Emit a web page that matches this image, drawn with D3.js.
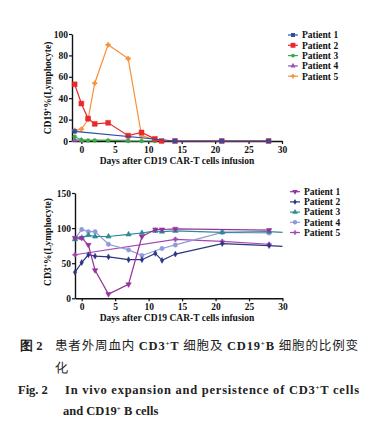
<!DOCTYPE html>
<html><head><meta charset="utf-8">
<script src="https://cdn.jsdelivr.net/npm/d3@7"></script>
<style>
body{margin:0;background:#fff;}
svg text{font-family:"Liberation Serif","Times New Roman",serif;}
</style></head>
<body><svg id="c" width="386" height="428"></svg>
<script>
// ---------- DATA ----------
const patients = ["Patient 1","Patient 2","Patient 3","Patient 4","Patient 5"];
const xTicks = [0,5,10,15,20,25,30];
const cd19Ticks = [0,20,40,60,80,100];
const cd3Ticks = [0,50,100,150];
// CD19+ % (top panel)
const cd19Days = [
  [-1,14,21,28],
  [-1,0,1,2,4,7,9,11,12,14,21,28],
  [-1,0,1,2,4,7,9,11],
  [-1,0,7],
  [-1,0,1,2,4,7,9,11]
];
const cd19Vals = [
  [9,0,0,0],
  [53,35,21,16,17,5,8,2,0,0,0,0],
  [4,1,0.5,0.5,0.5,0,0,0],
  [1,0.5,0.5],
  [10,11,20,54,90,77,5,1]
];
// CD3+ % (bottom panel)
const cd3Days = [
  [-1,0,1,2,4,7,9,11,12,14,28],
  [-1,0,1,2,4,7,9,11,12,14,21,28,30],
  [-1,0,1,2,4,7,9,11,12,14,21,28,30],
  [-1,0,1,2,4,7,9,12,14,21,28],
  [-1,14,21,28]
];
const cd3Vals = [
  [86,86,76,40,6,20,88,98,98,99,97],
  [37,51,62,60,59,55,55,64,54,63,78,75,74],
  [84,86,90,88,88,91,93,96,95,96,94,95,94],
  [85,98,95,95,77,69,61,71,76,94,93],
  [62,84,81,77]
];

// ---------- STYLE ----------
const topColors = ["#2c4fa6","#e82a2c","#3aab44","#8f5cb4","#f7913a"];
const botColors = ["#96329e","#2c3580","#2e8a96","#8f9ad8","#a646b2"];
const topSym = [d3.symbolSquare,d3.symbolSquare,d3.symbolCircle,d3.symbolTriangle,d3.symbolCross];
const topSize = [16,24,12,12,12];
const botSym = [d3.symbolTriangle,d3.symbolDiamond,d3.symbolTriangle,d3.symbolCircle,d3.symbolCross];
const botSize = [13,10,13,15,11];
const botRot = [180,0,0,0,0];

const svg = d3.select("#c");

function panel(cfg){
  const g = svg.append("g");
  const x = d3.scaleLinear().domain(cfg.xDom).range(cfg.xRange);
  const y = d3.scaleLinear().domain(cfg.yDom).range(cfg.yRange);
  // axes
  const ax = g.append("g").attr("transform",`translate(0,${cfg.yRange[0]})`)
    .call(d3.axisBottom(x).tickValues(xTicks).tickSize(3).tickSizeOuter(0));
  const ay = g.append("g").attr("transform",`translate(${cfg.xRange[0]},0)`)
    .call(d3.axisLeft(y).tickValues(cfg.yTicks).tickSize(3).tickSizeOuter(0));
  [ax,ay].forEach(a=>{
    a.select(".domain").attr("stroke","#111").attr("stroke-width",1.4);
    a.selectAll(".tick line").attr("stroke","#111").attr("stroke-width",1.2);
    a.selectAll(".tick text").attr("font-family","Liberation Serif").attr("font-weight","bold")
      .attr("font-size",9.5).attr("fill","#111");
  });
  ax.selectAll(".tick text").attr("dy","0.72em").attr("y",5);
  ay.selectAll(".tick text").attr("x",-4);
  // series (drawn last-to-first so Patient 1 sits on top)
  const line = d3.line().x(d=>x(d[0])).y(d=>y(d[1]));
  d3.range(cfg.days.length).reverse().forEach(i=>{
    const ds = cfg.days[i];
    const pts = ds.map((d,j)=>[d,cfg.vals[i][j]]);
    g.append("path").datum(pts).attr("d",line).attr("fill","none")
      .attr("stroke",cfg.colors[i]).attr("stroke-width",1.2);
    g.selectAll(null).data(pts.filter(p=>p[0]<=28)).enter().append("path")
      .attr("d",d3.symbol().type(cfg.sym[i]).size(cfg.size[i]))
      .attr("transform",p=>`translate(${x(p[0])},${y(p[1])}) rotate(${cfg.rot?cfg.rot[i]:0})`)
      .attr("fill",cfg.colors[i]).attr("stroke",cfg.colors[i]).attr("stroke-width",0.5);
  });
  // legend
  patients.forEach((p,i)=>{
    const ly = cfg.legY + i*cfg.legDy;
    g.append("line").attr("x1",cfg.legX).attr("x2",cfg.legX+10).attr("y1",ly).attr("y2",ly)
      .attr("stroke",cfg.colors[i]).attr("stroke-width",1.2);
    g.append("path").attr("d",d3.symbol().type(cfg.sym[i]).size(cfg.size[i]))
      .attr("transform",`translate(${cfg.legX+5},${ly}) rotate(${cfg.rot?cfg.rot[i]:0})`)
      .attr("fill",cfg.colors[i]);
    g.append("text").attr("x",cfg.legX+14).attr("y",ly).attr("dy","0.35em")
      .attr("font-weight","bold").attr("font-size",9.5).attr("fill","#111").text(p);
  });
  // x title
  g.append("text").attr("x",177).attr("y",cfg.xTitleY).attr("text-anchor","middle")
    .attr("font-weight","bold").attr("font-size",9.5).attr("fill","#111")
    .text("Days after CD19 CAR-T cells infusion");
  // y title
  const yt = g.append("text").attr("transform",`translate(${cfg.yTitleX},${cfg.yTitleY}) rotate(-90)`)
    .attr("text-anchor","middle").attr("font-weight","bold").attr("font-size",9.5).attr("fill","#111");
  yt.append("tspan").text(cfg.yTitle[0]);
  yt.append("tspan").attr("font-size",6).attr("dy",-3.5).text("+");
  yt.append("tspan").attr("dy",3.5).text(cfg.yTitle[1]);
}

panel({xDom:[-1.4,30],xRange:[72,282],yDom:[0,100],yRange:[141,34],yTicks:cd19Ticks,
  days:cd19Days,vals:cd19Vals,colors:topColors,sym:topSym,size:topSize,
  legX:288,legY:35,legDy:10.3,xTitleY:164,yTitleX:51,yTitleY:88,yTitle:["CD19","%(Lymphocyte)"]});
panel({xDom:[-1,30],xRange:[75,282.5],yDom:[0,150],yRange:[298.3,193],yTicks:cd3Ticks,
  days:cd3Days,vals:cd3Vals,colors:botColors,sym:botSym,size:botSize,rot:botRot,
  legX:290,legY:191.7,legDy:10.2,xTitleY:321,yTitleX:51,yTitleY:242,yTitle:["CD3","%(Lymphocyte)"]});

// ---------- CAPTION ----------
const cap = svg.append("g").attr("fill","#222");
cap.append("text").attr("x",20).attr("y",350).attr("font-family","Noto Sans CJK SC")
  .attr("font-weight","bold").attr("font-size",12.5).text("图 2");
const l1 = cap.append("text").attr("x",55).attr("y",350).attr("font-size",12.5)
  .attr("textLength",303).attr("lengthAdjust","spacing");
function cn(t,el){el.append("tspan").attr("font-family","Noto Sans CJK SC").text(t);}
function en(t,el){el.append("tspan").attr("font-family","Liberation Serif").attr("font-weight","bold").text(t);}
function sup(el){el.append("tspan").attr("font-family","Liberation Serif").attr("font-weight","bold")
  .attr("font-size",7).attr("dy",-4.5).text("+");}
function down(t,el){el.append("tspan").attr("font-family","Liberation Serif").attr("font-weight","bold").attr("dy",4.5).text(t);}
cn("患者外周血内 ",l1); en("CD3",l1); sup(l1); down("T ",l1); cn("细胞及 ",l1);
en("CD19",l1); sup(l1); down("B ",l1); cn("细胞的比例变",l1);
cap.append("text").attr("x",55).attr("y",372).attr("font-family","Noto Sans CJK SC")
  .attr("font-size",12.5).text("化");
cap.append("text").attr("x",18).attr("y",394).attr("font-weight","bold").attr("font-size",12.5)
  .text("Fig. 2");
const l3 = cap.append("text").attr("x",65).attr("y",394).attr("font-size",12.5)
  .attr("textLength",294).attr("lengthAdjust","spacing");
en("In vivo expansion and persistence of CD3",l3); sup(l3); down("T cells",l3);
const l4 = cap.append("text").attr("x",63).attr("y",415).attr("font-size",12.5);
en("and CD19",l4); sup(l4); down(" B cells",l4);
</script></body></html>
